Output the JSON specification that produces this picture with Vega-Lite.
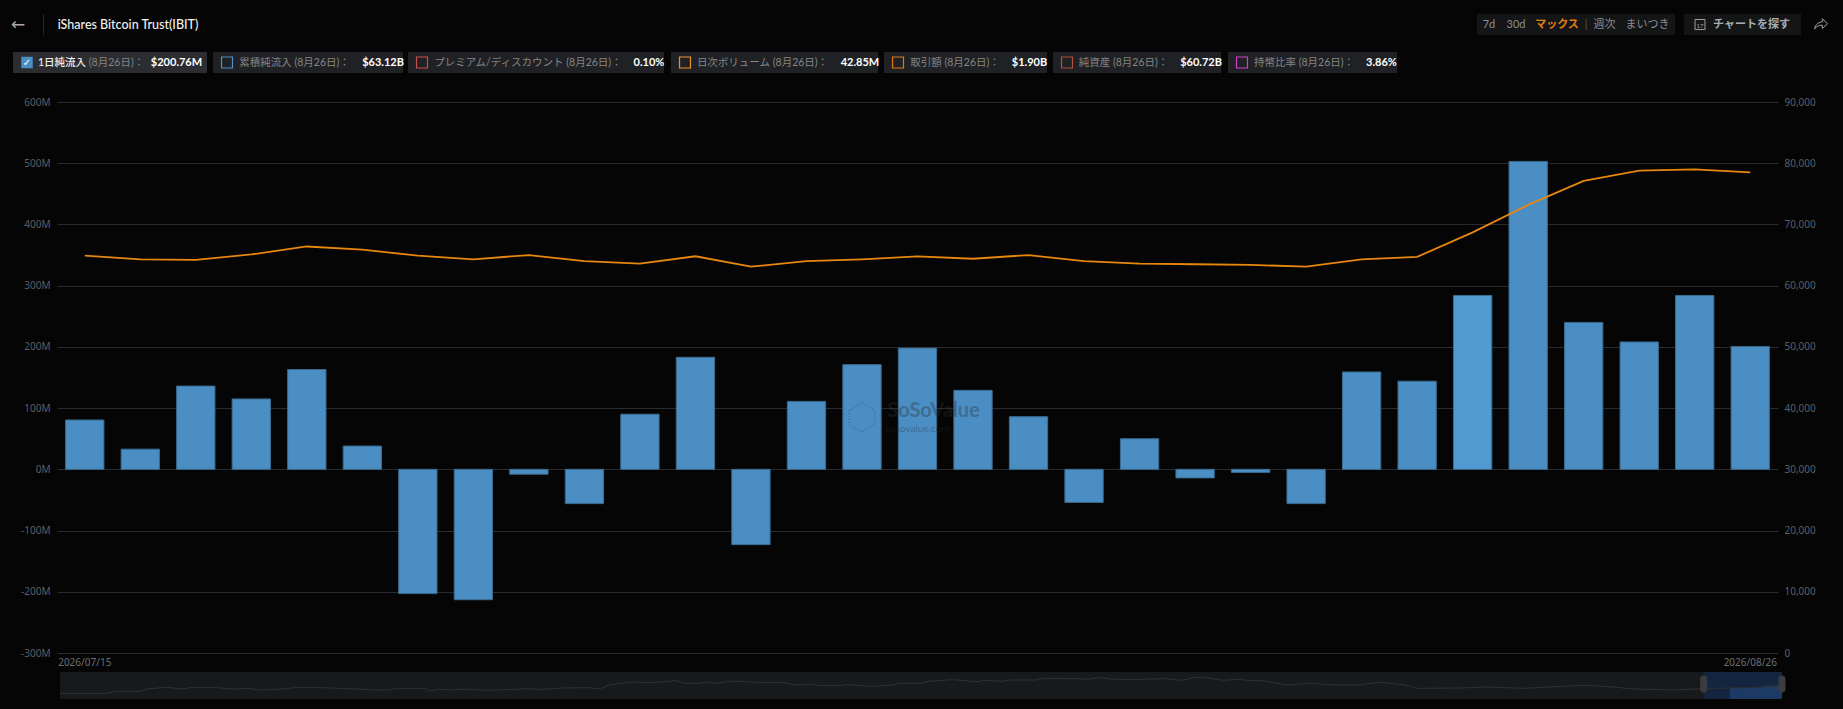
{
  "$schema": "https://vega.github.io/schema/vega-lite/v6.json",
  "background": "#050505",
  "padding": {"left": 0, "top": 13, "right": 0, "bottom": 11},
  "config": {
    "view": {"stroke": null},
    "concat": {"spacing": 0},
    "font": "Lato, 'Noto Sans CJK JP', sans-serif",
    "text": {"font": "Lato, 'Noto Sans CJK JP', sans-serif", "fontSize": 10.5}
  },
  "datasets": {
    "flows": [
      {"date": "2026/07/15", "net_inflow": 80.6, "btc_price": 64900},
      {"date": "2026/07/16", "net_inflow": 33, "btc_price": 64300},
      {"date": "2026/07/17", "net_inflow": 136, "btc_price": 64200},
      {"date": "2026/07/20", "net_inflow": 115, "btc_price": 65100},
      {"date": "2026/07/21", "net_inflow": 163, "btc_price": 66400},
      {"date": "2026/07/22", "net_inflow": 38, "btc_price": 65900},
      {"date": "2026/07/23", "net_inflow": -203, "btc_price": 64900},
      {"date": "2026/07/24", "net_inflow": -213, "btc_price": 64300},
      {"date": "2026/07/27", "net_inflow": -8, "btc_price": 65000},
      {"date": "2026/07/28", "net_inflow": -56, "btc_price": 64000},
      {"date": "2026/07/29", "net_inflow": 90, "btc_price": 63600},
      {"date": "2026/07/30", "net_inflow": 183, "btc_price": 64800},
      {"date": "2026/07/31", "net_inflow": -123, "btc_price": 63100},
      {"date": "2026/08/03", "net_inflow": 111, "btc_price": 64000},
      {"date": "2026/08/04", "net_inflow": 171, "btc_price": 64300},
      {"date": "2026/08/05", "net_inflow": 198, "btc_price": 64800},
      {"date": "2026/08/06", "net_inflow": 129, "btc_price": 64400},
      {"date": "2026/08/07", "net_inflow": 86, "btc_price": 65000},
      {"date": "2026/08/10", "net_inflow": -54, "btc_price": 64000},
      {"date": "2026/08/11", "net_inflow": 50, "btc_price": 63600},
      {"date": "2026/08/12", "net_inflow": -14, "btc_price": 63500},
      {"date": "2026/08/13", "net_inflow": -5, "btc_price": 63400},
      {"date": "2026/08/14", "net_inflow": -56, "btc_price": 63100},
      {"date": "2026/08/17", "net_inflow": 159, "btc_price": 64300},
      {"date": "2026/08/18", "net_inflow": 144, "btc_price": 64700},
      {"date": "2026/08/19", "net_inflow": 284, "btc_price": 68700},
      {"date": "2026/08/20", "net_inflow": 503, "btc_price": 73200},
      {"date": "2026/08/21", "net_inflow": 240, "btc_price": 77100},
      {"date": "2026/08/24", "net_inflow": 208, "btc_price": 78800},
      {"date": "2026/08/25", "net_inflow": 284, "btc_price": 79000},
      {"date": "2026/08/26", "net_inflow": 200.76, "btc_price": 78500}
    ],
    "overview": [
      {"session": 0, "level": 17}, {"session": 18, "level": 17}, {"session": 21, "level": 22}, {"session": 31, "level": 23},
      {"session": 33, "level": 30}, {"session": 41, "level": 35}, {"session": 47, "level": 30}, {"session": 50, "level": 34},
      {"session": 60, "level": 34}, {"session": 66, "level": 30}, {"session": 72, "level": 32}, {"session": 77, "level": 27},
      {"session": 85, "level": 30}, {"session": 90, "level": 34}, {"session": 100, "level": 34}, {"session": 113, "level": 30},
      {"session": 120, "level": 27}, {"session": 126, "level": 27}, {"session": 129, "level": 32}, {"session": 140, "level": 32},
      {"session": 142, "level": 24}, {"session": 145, "level": 29}, {"session": 150, "level": 27}, {"session": 155, "level": 30},
      {"session": 164, "level": 26}, {"session": 171, "level": 28}, {"session": 179, "level": 31}, {"session": 185, "level": 29},
      {"session": 192, "level": 33}, {"session": 202, "level": 34}, {"session": 207, "level": 31}, {"session": 211, "level": 43},
      {"session": 220, "level": 51}, {"session": 227, "level": 49}, {"session": 236, "level": 55}, {"session": 239, "level": 48},
      {"session": 245, "level": 47}, {"session": 248, "level": 51}, {"session": 252, "level": 47}, {"session": 257, "level": 54},
      {"session": 269, "level": 49}, {"session": 277, "level": 50}, {"session": 282, "level": 42}, {"session": 288, "level": 45},
      {"session": 290, "level": 41}, {"session": 300, "level": 41}, {"session": 302, "level": 43}, {"session": 311, "level": 38},
      {"session": 319, "level": 42}, {"session": 322, "level": 47}, {"session": 330, "level": 47}, {"session": 333, "level": 53},
      {"session": 342, "level": 58}, {"session": 352, "level": 52}, {"session": 354, "level": 56}, {"session": 361, "level": 53},
      {"session": 364, "level": 57}, {"session": 374, "level": 57}, {"session": 377, "level": 62}, {"session": 390, "level": 61},
      {"session": 394, "level": 59}, {"session": 399, "level": 64}, {"session": 402, "level": 60}, {"session": 410, "level": 58},
      {"session": 423, "level": 61}, {"session": 430, "level": 56}, {"session": 435, "level": 65}, {"session": 439, "level": 64},
      {"session": 446, "level": 56}, {"session": 451, "level": 59}, {"session": 457, "level": 55}, {"session": 461, "level": 55},
      {"session": 470, "level": 42}, {"session": 479, "level": 47}, {"session": 489, "level": 42}, {"session": 497, "level": 42},
      {"session": 506, "level": 50}, {"session": 515, "level": 43}, {"session": 520, "level": 32}, {"session": 537, "level": 33},
      {"session": 547, "level": 36}, {"session": 561, "level": 32}, {"session": 573, "level": 37}, {"session": 584, "level": 41},
      {"session": 594, "level": 37}, {"session": 603, "level": 30}, {"session": 619, "level": 27}, {"session": 629, "level": 31},
      {"session": 640, "level": 33}, {"session": 650, "level": 34}, {"session": 655, "level": 39}, {"session": 660, "level": 40}
    ]
  },
  "vconcat": [
    {
      "bounds": "flush",
      "spacing": 0,
      "hconcat": [
        {"width": 36, "height": 21, "data": {"values": [{"t": "←"}]}, "mark": {"type": "text", "fontSize": 17, "color": "#a8a8a8", "font": "DejaVu Sans"}, "encoding": {"text": {"field": "t"}}},
        {"width": 15, "height": 21, "data": {"values": [{"a": 0}]}, "mark": {"type": "rule", "color": "#252525"}, "encoding": {"x": {"datum": 0, "scale": {"domain": [-1, 1]}, "axis": null}}},
        {"width": 154, "height": 21, "data": {"values": [{"t": "iShares Bitcoin Trust(IBIT)"}]}, "mark": {"type": "text", "fontSize": 12.5, "fontWeight": 500, "color": "#f2f2f2"}, "encoding": {"text": {"field": "t"}}},
        {"width": 1272, "height": 21, "mark": {"type": "rule", "opacity": 0}, "encoding": {}},
        {"width": 24, "height": 21, "view": {"fill": "#141517"}, "data": {"values": [{"t": "7d"}]}, "mark": {"type": "text", "color": "#8a8f96", "fontSize": 11}, "encoding": {"text": {"field": "t"}}},
        {"width": 30, "height": 21, "view": {"fill": "#141517"}, "data": {"values": [{"t": "30d"}]}, "mark": {"type": "text", "color": "#8a8f96", "fontSize": 11}, "encoding": {"text": {"field": "t"}}},
        {"width": 52, "height": 21, "view": {"fill": "#141517"}, "data": {"values": [{"t": "マックス"}]}, "mark": {"type": "text", "color": "#e07c14", "fontWeight": "bold", "fontSize": 11}, "encoding": {"text": {"field": "t"}}},
        {"width": 6, "height": 21, "view": {"fill": "#141517"}, "data": {"values": [{"t": "|"}]}, "mark": {"type": "text", "color": "#55585c", "fontSize": 11}, "encoding": {"text": {"field": "t"}}},
        {"width": 31, "height": 21, "view": {"fill": "#141517"}, "data": {"values": [{"t": "週次"}]}, "mark": {"type": "text", "color": "#8a8f96", "fontSize": 11}, "encoding": {"text": {"field": "t"}}},
        {"width": 55, "height": 21, "view": {"fill": "#141517"}, "data": {"values": [{"t": "まいつき"}]}, "mark": {"type": "text", "color": "#8a8f96", "fontSize": 11}, "encoding": {"text": {"field": "t"}}},
        {"width": 9, "height": 21, "mark": {"type": "rule", "opacity": 0}, "encoding": {}},
        {"width": 26, "height": 21, "view": {"fill": "#141517"}, "data": {"values": [{"icon": "calendar", "t": "17"}]}, "layer": [
          {"mark": {"type": "point", "shape": "square", "filled": false, "size": 100, "stroke": "#a0a0a0", "strokeWidth": 1, "xOffset": 3, "opacity": 1}},
          {"mark": {"type": "text", "color": "#a0a0a0", "fontSize": 6, "dx": 3, "dy": 1}, "encoding": {"text": {"field": "t"}}}
        ]},
        {"width": 83, "height": 21, "view": {"fill": "#141517"}, "data": {"values": [{"t": "チャートを探す"}]}, "mark": {"type": "text", "color": "#a9adb2", "fontWeight": "bold", "fontSize": 11}, "encoding": {"text": {"field": "t"}}},
        {"width": 8, "height": 21, "view": {"fill": "#141517"}, "mark": {"type": "rule", "opacity": 0}, "encoding": {}},
        {"width": 8, "height": 21, "mark": {"type": "rule", "opacity": 0}, "encoding": {}},
        {"width": 24, "height": 21, "data": {"values": [{"icon": "share"}]}, "mark": {"type": "point", "shape": "M-1,0.7 C-0.8,-0.2 -0.2,-0.4 0.2,-0.4 L0.2,-0.9 L1,-0.1 L0.2,0.6 L0.2,0.1 C-0.2,0.1 -0.7,0.2 -1,0.7 Z", "filled": false, "size": 170, "stroke": "#a0a0a0", "strokeWidth": 1, "opacity": 1}},
        {"width": 10, "height": 21, "mark": {"type": "rule", "opacity": 0}, "encoding": {}}
      ]
    },
    {"width": 1, "height": 16, "mark": {"type": "rule", "opacity": 0}, "encoding": {}},
    {
      "spacing": 0,
      "hconcat": [
        {"width": 13, "height": 21, "mark": {"type": "rule", "opacity": 0}, "encoding": {}},
        {
          "spacing": 0,
          "bounds": "flush",
          "hconcat": [
            {"width": 24, "height": 21, "view": {"fill": "#2b2d31"}, "data": {"values": [{"t": "✓"}]}, "layer": [
              {"mark": {"type": "point", "shape": "square", "filled": true, "size": 132, "color": "#4a8ec4", "opacity": 1, "xOffset": 2}},
              {"mark": {"type": "text", "color": "#ffffff", "fontSize": 10, "font": "DejaVu Sans", "dx": 2}, "encoding": {"text": {"field": "t"}}}
            ]},
            {"width": 50, "height": 21, "view": {"fill": "#2b2d31"}, "data": {"values": [{"t": "1日純流入"}]}, "mark": {"type": "text", "color": "#f0f0f0", "fontWeight": 500}, "encoding": {"text": {"field": "t"}}},
            {"width": 59, "height": 21, "view": {"fill": "#2b2d31"}, "data": {"values": [{"t": "(8月26日)："}]}, "mark": {"type": "text", "color": "#858585"}, "encoding": {"text": {"field": "t"}}},
            {"width": 61, "height": 21, "view": {"fill": "#2b2d31"}, "data": {"values": [{"t": "$200.76M"}]}, "mark": {"type": "text", "color": "#ffffff", "fontWeight": "bold", "fontSize": 11}, "encoding": {"text": {"field": "t"}}}
          ]
        },
        {"width": 6, "height": 21, "mark": {"type": "rule", "opacity": 0}, "encoding": {}},
        {
          "spacing": 0,
          "bounds": "flush",
          "hconcat": [
            {"width": 24, "height": 21, "view": {"fill": "#202124"}, "data": {"values": [{"s": "cumulative"}]}, "mark": {"type": "point", "shape": "square", "filled": false, "size": 120, "stroke": "#4a94cc", "strokeWidth": 1.2, "opacity": 1, "xOffset": 2}},
            {"width": 115, "height": 21, "view": {"fill": "#202124"}, "data": {"values": [{"t": "累積純流入 (8月26日)："}]}, "mark": {"type": "text", "color": "#858585"}, "encoding": {"text": {"field": "t"}}},
            {"width": 51, "height": 21, "view": {"fill": "#202124"}, "data": {"values": [{"t": "$63.12B"}]}, "mark": {"type": "text", "color": "#ffffff", "fontWeight": "bold", "fontSize": 11, "dx": 5.5}, "encoding": {"text": {"field": "t"}}}
          ]
        },
        {"width": 4, "height": 21, "mark": {"type": "rule", "opacity": 0}, "encoding": {}},
        {
          "spacing": 0,
          "bounds": "flush",
          "hconcat": [
            {"width": 24, "height": 21, "view": {"fill": "#202124"}, "data": {"values": [{"s": "premium"}]}, "mark": {"type": "point", "shape": "square", "filled": false, "size": 120, "stroke": "#c9504e", "strokeWidth": 1.2, "opacity": 1, "xOffset": 2}},
            {"width": 192, "height": 21, "view": {"fill": "#202124"}, "data": {"values": [{"t": "プレミアム/ディスカウント (8月26日)："}]}, "mark": {"type": "text", "color": "#858585"}, "encoding": {"text": {"field": "t"}}},
            {"width": 40, "height": 21, "view": {"fill": "#202124"}, "data": {"values": [{"t": "0.10%"}]}, "mark": {"type": "text", "color": "#ffffff", "fontWeight": "bold", "fontSize": 11, "dx": 5}, "encoding": {"text": {"field": "t"}}}
          ]
        },
        {"width": 6, "height": 21, "mark": {"type": "rule", "opacity": 0}, "encoding": {}},
        {
          "spacing": 0,
          "bounds": "flush",
          "hconcat": [
            {"width": 24, "height": 21, "view": {"fill": "#202124"}, "data": {"values": [{"s": "volume"}]}, "mark": {"type": "point", "shape": "square", "filled": false, "size": 120, "stroke": "#ee9228", "strokeWidth": 1.2, "opacity": 1, "xOffset": 2}},
            {"width": 135, "height": 21, "view": {"fill": "#202124"}, "data": {"values": [{"t": "日次ボリューム (8月26日)："}]}, "mark": {"type": "text", "color": "#858585"}, "encoding": {"text": {"field": "t"}}},
            {"width": 48, "height": 21, "view": {"fill": "#202124"}, "data": {"values": [{"t": "42.85M"}]}, "mark": {"type": "text", "color": "#ffffff", "fontWeight": "bold", "fontSize": 11, "dx": 6}, "encoding": {"text": {"field": "t"}}}
          ]
        },
        {"width": 4, "height": 21, "mark": {"type": "rule", "opacity": 0}, "encoding": {}},
        {
          "spacing": 0,
          "bounds": "flush",
          "hconcat": [
            {"width": 24, "height": 21, "view": {"fill": "#202124"}, "data": {"values": [{"s": "turnover"}]}, "mark": {"type": "point", "shape": "square", "filled": false, "size": 120, "stroke": "#dd7a12", "strokeWidth": 1.2, "opacity": 1, "xOffset": 2}},
            {"width": 94, "height": 21, "view": {"fill": "#202124"}, "data": {"values": [{"t": "取引額 (8月26日)："}]}, "mark": {"type": "text", "color": "#858585"}, "encoding": {"text": {"field": "t"}}},
            {"width": 45, "height": 21, "view": {"fill": "#202124"}, "data": {"values": [{"t": "$1.90B"}]}, "mark": {"type": "text", "color": "#ffffff", "fontWeight": "bold", "fontSize": 11, "dx": 5}, "encoding": {"text": {"field": "t"}}}
          ]
        },
        {"width": 5, "height": 21, "mark": {"type": "rule", "opacity": 0}, "encoding": {}},
        {
          "spacing": 0,
          "bounds": "flush",
          "hconcat": [
            {"width": 24, "height": 21, "view": {"fill": "#202124"}, "data": {"values": [{"s": "assets"}]}, "mark": {"type": "point", "shape": "square", "filled": false, "size": 120, "stroke": "#b84d3c", "strokeWidth": 1.2, "opacity": 1, "xOffset": 2}},
            {"width": 93, "height": 21, "view": {"fill": "#202124"}, "data": {"values": [{"t": "純資産 (8月26日)："}]}, "mark": {"type": "text", "color": "#858585"}, "encoding": {"text": {"field": "t"}}},
            {"width": 51, "height": 21, "view": {"fill": "#202124"}, "data": {"values": [{"t": "$60.72B"}]}, "mark": {"type": "text", "color": "#ffffff", "fontWeight": "bold", "fontSize": 11, "dx": 5.5}, "encoding": {"text": {"field": "t"}}}
          ]
        },
        {"width": 6, "height": 21, "mark": {"type": "rule", "opacity": 0}, "encoding": {}},
        {
          "spacing": 0,
          "bounds": "flush",
          "hconcat": [
            {"width": 24, "height": 21, "view": {"fill": "#202124"}, "data": {"values": [{"s": "holding"}]}, "mark": {"type": "point", "shape": "square", "filled": false, "size": 120, "stroke": "#d040c8", "strokeWidth": 1.2, "opacity": 1, "xOffset": 2}},
            {"width": 104, "height": 21, "view": {"fill": "#202124"}, "data": {"values": [{"t": "持幣比率 (8月26日)："}]}, "mark": {"type": "text", "color": "#858585"}, "encoding": {"text": {"field": "t"}}},
            {"width": 41, "height": 21, "view": {"fill": "#202124"}, "data": {"values": [{"t": "3.86%"}]}, "mark": {"type": "text", "color": "#ffffff", "fontWeight": "bold", "fontSize": 11, "dx": 5}, "encoding": {"text": {"field": "t"}}}
          ]
        }
      ]
    },
    {"width": 1, "height": 24, "mark": {"type": "rule", "opacity": 0}, "encoding": {}},
    {
      "spacing": 0,
      "bounds": "flush",
      "hconcat": [
        {"width": 57, "height": 551, "mark": {"type": "rule", "opacity": 0}, "encoding": {}},
        {
          "width": 1721,
          "height": 551,
          "data": {"name": "flows"},
          "encoding": {
            "x": {
              "field": "date",
              "type": "nominal",
              "sort": null,
              "title": null,
              "scale": {"paddingInner": 0.31, "paddingOuter": 0.155},
              "axis": {"values": ["2026/07/15", "2026/08/26"], "labelAngle": 0, "labelColor": "#6b6f74", "labelFont": "Noto Sans", "labelFontSize": 10, "labelPadding": 4, "domain": false, "ticks": false, "grid": false}
            }
          },
          "layer": [
            {
              "mark": {"type": "bar", "stroke": "#3b6b8f", "strokeWidth": 1},
              "encoding": {
                "y": {
                  "field": "net_inflow",
                  "type": "quantitative",
                  "title": null,
                  "scale": {"domain": [-300, 600], "nice": false},
                  "axis": {"values": [-300, -200, -100, 0, 100, 200, 300, 400, 500, 600], "labelExpr": "datum.value + 'M'", "labelColor": "#5a5f66", "labelFont": "Noto Sans", "labelFontSize": 10, "labelPadding": 7, "domain": false, "ticks": false, "grid": true, "gridColor": "#2a2b30", "gridWidth": 1}
                },
                "color": {
                  "condition": {"test": "datum.date == '2026/08/19'", "value": "#519bd3"},
                  "value": "#4b8ec3"
                }
              }
            },
            {
              "data": {"values": [{"mark": "logo", "anchor": "2026/08/04", "level": 85}]},
              "mark": {"type": "point", "shape": "M0,-1 L0.87,-0.5 L0.87,0.5 L0,1 L-0.87,0.5 L-0.87,-0.5 Z", "filled": false, "size": 850, "stroke": "#2a2f35", "strokeWidth": 1.5, "strokeDash": [1, 2], "opacity": 0.35},
              "encoding": {
                "x": {"field": "anchor", "type": "nominal", "sort": null},
                "y": {"field": "level", "type": "quantitative", "scale": {"domain": [-300, 600], "nice": false}, "axis": null}
              }
            },
            {
              "data": {"values": [{"label": "SoSoValue", "anchor": "2026/08/05", "level": 95}]},
              "mark": {"type": "text", "font": "Lato", "fontSize": 20, "fontWeight": "bold", "color": "#2a2f35", "opacity": 0.35, "dx": 16},
              "encoding": {
                "x": {"field": "anchor", "type": "nominal", "sort": null},
                "y": {"field": "level", "type": "quantitative", "scale": {"domain": [-300, 600], "nice": false}, "axis": null},
                "text": {"field": "label"}
              }
            },
            {
              "data": {"values": [{"label": "sosovalue.com", "anchor": "2026/08/05", "level": 66}]},
              "mark": {"type": "text", "font": "Lato", "fontSize": 10, "color": "#2a2f35", "opacity": 0.35},
              "encoding": {
                "x": {"field": "anchor", "type": "nominal", "sort": null},
                "y": {"field": "level", "type": "quantitative", "scale": {"domain": [-300, 600], "nice": false}, "axis": null},
                "text": {"field": "label"}
              }
            },
            {
              "mark": {"type": "line", "color": "#e8870e", "strokeWidth": 1.8},
              "encoding": {
                "y": {
                  "field": "btc_price",
                  "type": "quantitative",
                  "title": null,
                  "scale": {"domain": [0, 90000], "nice": false},
                  "axis": {"orient": "right", "values": [0, 10000, 20000, 30000, 40000, 50000, 60000, 70000, 80000, 90000], "labelExpr": "format(datum.value, ',')", "labelColor": "#5a5f66", "labelFont": "Noto Sans", "labelFontSize": 10, "labelPadding": 6, "domain": false, "ticks": false, "grid": false}
                }
              }
            }
          ],
          "resolve": {"scale": {"y": "independent"}}
        }
      ]
    },
    {"width": 1, "height": 5, "mark": {"type": "rule", "opacity": 0}, "encoding": {}},
    {
      "spacing": 0,
      "hconcat": [
        {"width": 58, "height": 27, "mark": {"type": "rule", "opacity": 0}, "encoding": {}},
        {
          "width": 1722,
          "height": 27,
          "view": {"fill": "#18191b"},
          "layer": [
            {
              "data": {"values": [{"from": 630, "to": 660}]},
              "mark": {"type": "rect", "color": "#14253f"},
              "encoding": {
                "x": {"field": "from", "type": "quantitative", "title": null, "scale": {"domain": [0, 660], "nice": false, "zero": false}, "axis": null},
                "x2": {"field": "to"}
              }
            },
            {
              "data": {"name": "overview"},
              "transform": [{"filter": "datum.session >= 630"}],
              "mark": {"type": "area", "color": "#1d3a66", "opacity": 1},
              "encoding": {
                "x": {"field": "session", "type": "quantitative", "scale": {"domain": [0, 660], "nice": false, "zero": false}, "axis": null},
                "y": {"field": "level", "type": "quantitative", "scale": {"domain": [0, 81], "nice": false}, "axis": null}
              }
            },
            {
              "data": {"name": "overview"},
              "mark": {"type": "line", "color": "#2e3032", "strokeWidth": 1},
              "encoding": {
                "x": {"field": "session", "type": "quantitative", "scale": {"domain": [0, 660], "nice": false, "zero": false}, "axis": null},
                "y": {"field": "level", "type": "quantitative", "scale": {"domain": [0, 81], "nice": false}, "axis": null}
              }
            },
            {
              "data": {"values": [{"edge": 630, "mid": 45}, {"edge": 660, "mid": 45}]},
              "mark": {"type": "tick", "color": "#3a3c40", "thickness": 7, "size": 17, "cornerRadius": 3, "opacity": 1},
              "encoding": {
                "x": {"field": "edge", "type": "quantitative", "scale": {"domain": [0, 660], "nice": false, "zero": false}, "axis": null},
                "y": {"field": "mid", "type": "quantitative", "scale": {"domain": [0, 81], "nice": false}, "axis": null}
              }
            }
          ]
        }
      ]
    }
  ]
}
